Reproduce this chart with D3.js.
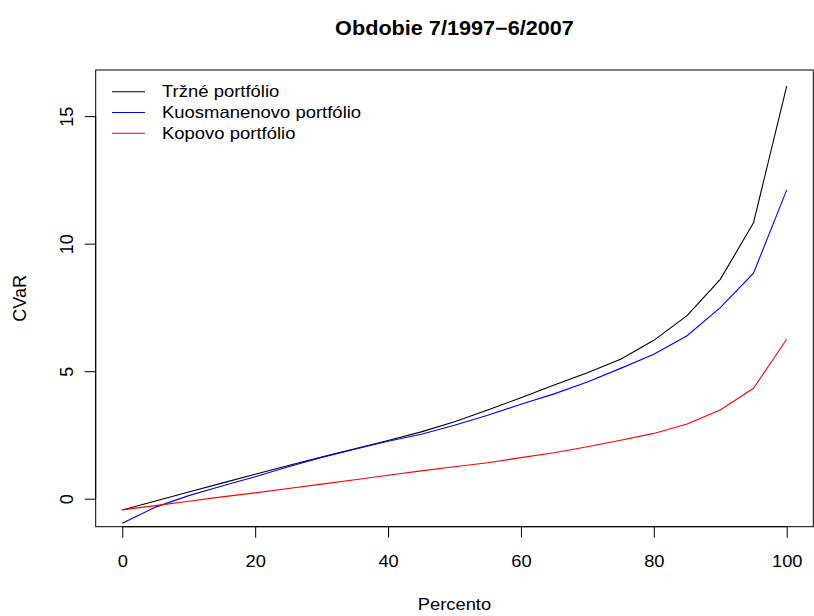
<!DOCTYPE html>
<html>
<head>
<meta charset="utf-8">
<script src="https://cdn.jsdelivr.net/npm/d3@7"></script>
<style>
  body { margin: 0; background: #fff; }
  svg text { font-family: "Liberation Sans", Arial, sans-serif; }
</style>
</head>
<body>
<div id="chart"></div>
<script>
// x values (percent) shared by all series
const percento = [0, 5, 10, 15, 20, 25, 30, 35, 40, 45, 50, 55, 60, 65, 70, 75, 80, 85, 90, 95, 100];

const trzne = [-0.44, -0.09, 0.26, 0.61, 0.96, 1.30, 1.63, 1.96, 2.28, 2.62, 3.02, 3.48, 3.96, 4.46, 4.94, 5.47, 6.21, 7.18, 8.60, 10.82, 16.18];
const kuosmanen = [-0.96, -0.33, 0.12, 0.50, 0.86, 1.25, 1.62, 1.94, 2.25, 2.53, 2.88, 3.27, 3.70, 4.11, 4.58, 5.11, 5.66, 6.39, 7.49, 8.84, 12.11];
const kopa = [-0.44, -0.27, -0.10, 0.07, 0.23, 0.40, 0.57, 0.74, 0.92, 1.09, 1.25, 1.41, 1.61, 1.80, 2.04, 2.29, 2.56, 2.93, 3.48, 4.33, 6.25];

const seriesNames = ["Tržné portfólio", "Kuosmanenovo portfólio", "Kopovo portfólio"];
const seriesColors = ["#000000", "#0000ff", "#ff0000"];

const xTicks = [0, 20, 40, 60, 80, 100];
const yTicks = [0, 5, 10, 15];

function renderChart() {
  const svg = d3.select("#chart")
    .append("svg")
    .attr("width", 814)
    .attr("height", 616);

  // plot region (R style, 4% padding on x)
  const left = 95.7, right = 813.3, top = 70, bottom = 526.7;
  // the reference text is a bit wider than tall
  const stretch = 1.11;

  const x = d3.scaleLinear().domain([-4, 104]).range([left, right]);
  const y = d3.scaleLinear().domain([-1.098, 16.81]).range([bottom, top]);

  // lines
  const line = d3.line()
    .x((d, i) => x(percento[i]))
    .y(d => y(d));

  const all = [trzne, kuosmanen, kopa];
  svg.selectAll(".series")
    .data(all)
    .enter().append("path")
    .attr("class", "series")
    .attr("d", d => line(d))
    .attr("fill", "none")
    .attr("stroke", (d, i) => seriesColors[i])
    .attr("stroke-width", 1.1);

  // frame
  svg.append("rect")
    .attr("x", left)
    .attr("y", top)
    .attr("width", right - left)
    .attr("height", bottom - top)
    .attr("fill", "none")
    .attr("stroke", "#000")
    .attr("stroke-width", 1);

  // x axis
  const xAxis = svg.append("g")
    .attr("transform", `translate(0, ${bottom})`)
    .call(d3.axisBottom(x).tickValues(xTicks).tickSize(11).tickPadding(18).tickSizeOuter(0));
  xAxis.select(".domain")
    .attr("d", `M${x(0)},0H${x(100)}`);
  xAxis.selectAll("text")
    .style("font-size", "16.5px")
    .attr("transform", `scale(${stretch},1)`)
    .attr("fill", "#000");

  // y axis
  const yAxis = svg.append("g")
    .attr("transform", `translate(${left}, 0)`)
    .call(d3.axisLeft(y).tickValues(yTicks).tickSize(11).tickSizeOuter(0));
  yAxis.select(".domain")
    .attr("d", `M0,${y(0)}V${y(15)}`);
  yAxis.selectAll("text")
    .attr("x", null)
    .attr("dy", null)
    .attr("text-anchor", "middle")
    .attr("transform", "translate(-23, 0) rotate(-90)")
    .attr("y", 0)
    .style("font-size", "18px")
    .attr("fill", "#000");

  // title
  svg.append("text")
    .attr("transform", `translate(${(left + right) / 2}, 35) scale(${stretch},1)`)
    .attr("text-anchor", "middle")
    .style("font-size", "19.5px")
    .style("font-weight", "bold")
    .text("Obdobie 7/1997\u22126/2007");

  // axis titles
  svg.append("text")
    .attr("transform", `translate(${(left + right) / 2}, 610) scale(${stretch},1)`)
    .attr("text-anchor", "middle")
    .style("font-size", "16.5px")
    .text("Percento");

  svg.append("text")
    .attr("transform", `translate(25.5, ${(top + bottom) / 2}) rotate(-90)`)
    .attr("text-anchor", "middle")
    .style("font-size", "18px")
    .text("CVaR");

  // legend
  const legend = svg.selectAll(".legend")
    .data(seriesNames)
    .enter().append("g")
    .attr("class", "legend")
    .attr("transform", (d, i) => `translate(112, ${91.7 + i * 20.8})`);

  legend.append("line")
    .attr("x1", 0)
    .attr("x2", 33)
    .attr("stroke", (d, i) => seriesColors[i])
    .attr("stroke-width", 1.1);

  legend.append("text")
    .attr("transform", `translate(50, 0) scale(${stretch + 0.01},1)`)
    .attr("dy", "0.35em")
    .style("font-size", "16.5px")
    .text(d => d);
}

document.addEventListener('DOMContentLoaded', function() {
  renderChart();
});
</script>
</body>
</html>
